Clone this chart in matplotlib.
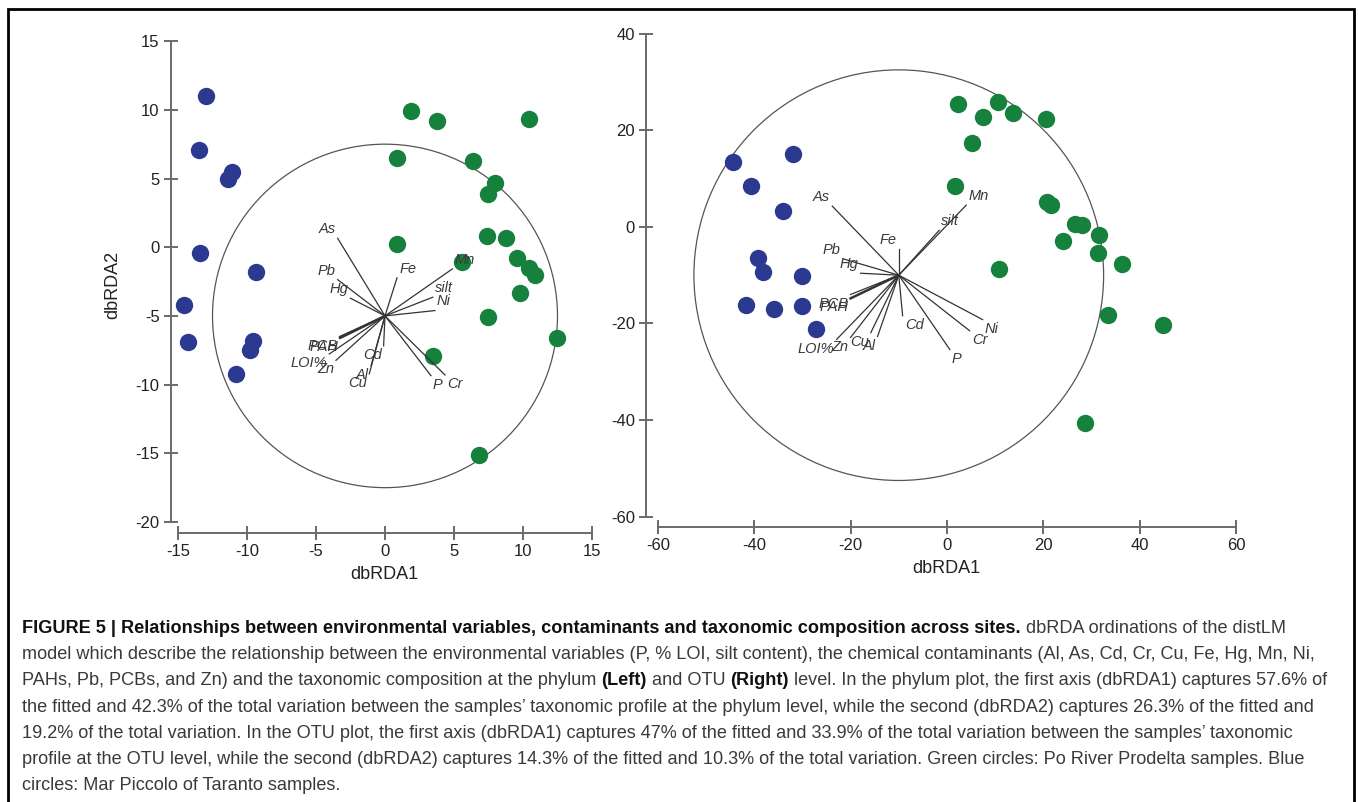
import matplotlib.pyplot as plt
import matplotlib.patches as mpatches
import numpy as np

plt.rcParams['font.family'] = ['Liberation Sans', 'DejaVu Sans']
plt.rcParams['axes.unicode_minus'] = False

# ---- phylum level (left) ----
phy_blue_x = [-13.0, -13.5, -11.1, -11.4, -13.4, -9.35, -14.6, -14.3, -9.6, -9.8, -10.8]
phy_blue_y = [11.0, 7.1, 5.5, 5.0, -0.4, -1.8, -4.2, -6.9, -6.8, -7.5, -9.2]
phy_green_x = [1.9, 3.8, 10.4, 0.9, 6.4, 8.0, 7.5, 0.9, 7.4, 8.8, 5.6, 9.6, 10.4, 10.9, 9.8, 7.5, 12.5, 3.5, 6.8]
phy_green_y = [9.9, 9.2, 9.3, 6.5, 6.3, 4.7, 3.9, 0.2, 0.8, 0.7, -1.1, -0.8, -1.5, -2.0, -3.3, -5.1, -6.6, -7.9, -15.1]
phy_origin = (0.0, -5.0)
phy_radius = 12.5
phy_vars = ['As', 'Pb', 'Hg', 'Fe', 'Mn', 'silt', 'Ni', 'P', 'Cr', 'Cd', 'Al', 'Cu', 'Zn', 'LOI%', 'PAH', 'PCB']
phy_vec_x = [-3.43, -3.43, -2.51, 0.87, 4.88, 3.46, 3.62, 3.33, 4.35, -0.1, -1.01, -1.14, -3.55, -4.04, -3.25, -3.3]
phy_vec_y = [5.65, 2.64, 1.29, 2.77, 3.42, 1.36, 0.39, -4.35, -4.3, -2.18, -3.62, -4.22, -3.23, -2.77, -1.6, -1.5]

# ---- OTU level (right) ----
otu_blue_x = [-44.3, -31.9, -40.6, -34.0, -39.3, -38.1, -30.0, -41.6, -35.8, -30.0, -27.1]
otu_blue_y = [13.4, 15.0, 8.4, 3.3, -6.5, -9.4, -10.2, -16.1, -16.9, -16.3, -21.1]
otu_green_x = [2.3, 10.6, 7.5, 13.7, 20.5, 5.2, 1.7, 20.7, 21.5, 26.5, 28.0, 31.5, 24.0, 31.3, 36.4, 10.8, 33.5, 44.9, 28.6]
otu_green_y = [25.5, 25.9, 22.8, 23.6, 22.3, 17.3, 8.4, 5.2, 4.6, 0.6, 0.4, -1.7, -2.9, -5.4, -7.7, -8.8, -18.2, -20.3, -40.7]
otu_origin = (-10.0, -10.0)
otu_radius = 42.5
otu_vars = ['As', 'Mn', 'silt', 'Fe', 'Pb', 'Hg', 'PCB', 'PAH', 'LOI%', 'Zn', 'Cu', 'Al', 'Cd', 'P', 'Cr', 'Ni']
otu_vec_x = [-13.8, 14.0, 8.4, 0.0, -11.6, -7.9, -10.0, -10.0, -12.9, -10.0, -5.8, -4.4, 0.8, 10.6, 14.7, 17.4]
otu_vec_y = [14.3, 14.5, 9.3, 5.4, 3.4, 0.4, -4.0, -4.8, -13.3, -12.9, -11.9, -12.7, -8.4, -15.4, -11.5, -9.2]

caption = [
    [("FIGURE 5 | Relationships between environmental variables, contaminants and taxonomic composition across sites.", True),
     (" dbRDA ordinations of the distLM", False)],
    [("model which describe the relationship between the environmental variables (P, % LOI, silt content), the chemical contaminants (Al, As, Cd, Cr, Cu, Fe, Hg, Mn, Ni,", False)],
    [("PAHs, Pb, PCBs, and Zn) and the taxonomic composition at the phylum", False), (" (Left)", True), (" and OTU", False),
     (" (Right)", True), (" level. In the phylum plot, the first axis (dbRDA1) captures 57.6% of", False)],
    [("the fitted and 42.3% of the total variation between the samples\u2019 taxonomic profile at the phylum level, while the second (dbRDA2) captures 26.3% of the fitted and", False)],
    [("19.2% of the total variation. In the OTU plot, the first axis (dbRDA1) captures 47% of the fitted and 33.9% of the total variation between the samples\u2019 taxonomic", False)],
    [("profile at the OTU level, while the second (dbRDA2) captures 14.3% of the fitted and 10.3% of the total variation. Green circles: Po River Prodelta samples. Blue", False)],
    [("circles: Mar Piccolo of Taranto samples.", False)],
]

BLUE = '#2b3990'
GREEN = '#15813c'
AXC = '#6a6a6a'
W, H = 1358, 802

fig = plt.figure(figsize=(W / 100, H / 100), dpi=100)


def ordination(rect, xlim, ylim, xticks, yticks, bx, by, gx, gy, origin, radius, names, vx, vy):
    ax = fig.add_axes(rect)
    ax.set_xlim(xlim)
    ax.set_ylim(ylim)
    for s in ['top', 'right']:
        ax.spines[s].set_visible(False)
    ax.spines['left'].set_bounds(yticks[0], yticks[-1])
    ax.spines['bottom'].set_bounds(xticks[0], xticks[-1])
    for s in ['left', 'bottom']:
        ax.spines[s].set_color(AXC)
        ax.spines[s].set_linewidth(1.4)
    ax.set_xticks(xticks)
    ax.set_yticks(yticks)
    ax.tick_params(direction='inout', length=10, width=1.4, color=AXC, labelsize=12,
                   labelcolor='#222222', pad=3)

    circ = mpatches.Ellipse(origin, 2 * radius, 2 * radius, fill=False, ec='#555555', lw=0.9, zorder=1)
    ax.add_patch(circ)
    for name, dx, dy in zip(names, vx, vy):
        lw = 1.8 if name == 'PAH' else 0.9
        ax.plot([origin[0], origin[0] + dx], [origin[1], origin[1] + dy], color='#333333', lw=lw, zorder=3)
        ha = 'left' if dx > 0 else 'right'
        va = 'bottom' if dy > 0 else 'top'
        ax.annotate(name, (origin[0] + dx, origin[1] + dy),
                    xytext=(1.5 if dx > 0 else -1.5, 1.5 if dy > 0 else -1.5), textcoords='offset points',
                    ha=ha, va=va, fontsize=10.5, style='italic', color='#3a3a3a', zorder=4)
    ax.plot(bx, by, 'o', ms=12.5, color=BLUE, mec='none', zorder=2)
    ax.plot(gx, gy, 'o', ms=12.5, color=GREEN, mec='none', zorder=2)
    ax.set_xlabel('dbRDA1', fontsize=13, color='#222222', labelpad=5)
    return ax


ax1 = ordination([170.7 / W, (H - 533) / H, 426.8 / W, 496 / H],
                 (-15.53, 15.4), (-20.8, 15.3), [-15, -10, -5, 0, 5, 10, 15], [-20, -15, -10, -5, 0, 5, 10, 15],
                 phy_blue_x, phy_blue_y, phy_green_x, phy_green_y, phy_origin, phy_radius,
                 phy_vars, phy_vec_x, phy_vec_y)
ax1.set_ylabel('dbRDA2', fontsize=13, color='#222222', labelpad=10)

ax2 = ordination([646.2 / W, (H - 526.7) / H, 599.6 / W, 502.7 / H],
                 (-62.4, 62.0), (-62.07, 42.0), [-60, -40, -20, 0, 20, 40, 60], [-60, -40, -20, 0, 20, 40],
                 otu_blue_x, otu_blue_y, otu_green_x, otu_green_y, otu_origin, otu_radius,
                 otu_vars, otu_vec_x, otu_vec_y)

# caption
cap = fig.add_axes([0, 0, 1, 1], zorder=-1)
cap.set_axis_off()
cap.set_xlim(0, W)
cap.set_ylim(H, 0)
fs = 13.1
renderer = fig.canvas.get_renderer()


def text_w(s, bold):
    t = cap.text(0, 0, s, fontsize=fs, fontweight='bold' if bold else 'normal')
    w = t.get_window_extent(renderer).width
    t.remove()
    return w


space_w = text_w('a a', False) - text_w('aa', False)
y0 = 633
for i, line in enumerate(caption):
    x = 22
    for seg, bold in line:
        if seg.startswith(' '):
            x += space_w
            seg = seg[1:]
        t = cap.text(x, y0 + i * 26.2, seg, fontsize=fs, fontweight='bold' if bold else 'normal',
                     color='#111111' if bold else '#3a3a3a', ha='left', va='baseline')
        x += t.get_window_extent(renderer).width

# frame around the figure
fig.add_artist(mpatches.Rectangle((8 / W, -0.02), (1354 - 8) / W, (H - 9) / H + 0.02,
                                  transform=fig.transFigure, fill=False, ec='black', lw=2))

fig.savefig('out.png', dpi=100)
